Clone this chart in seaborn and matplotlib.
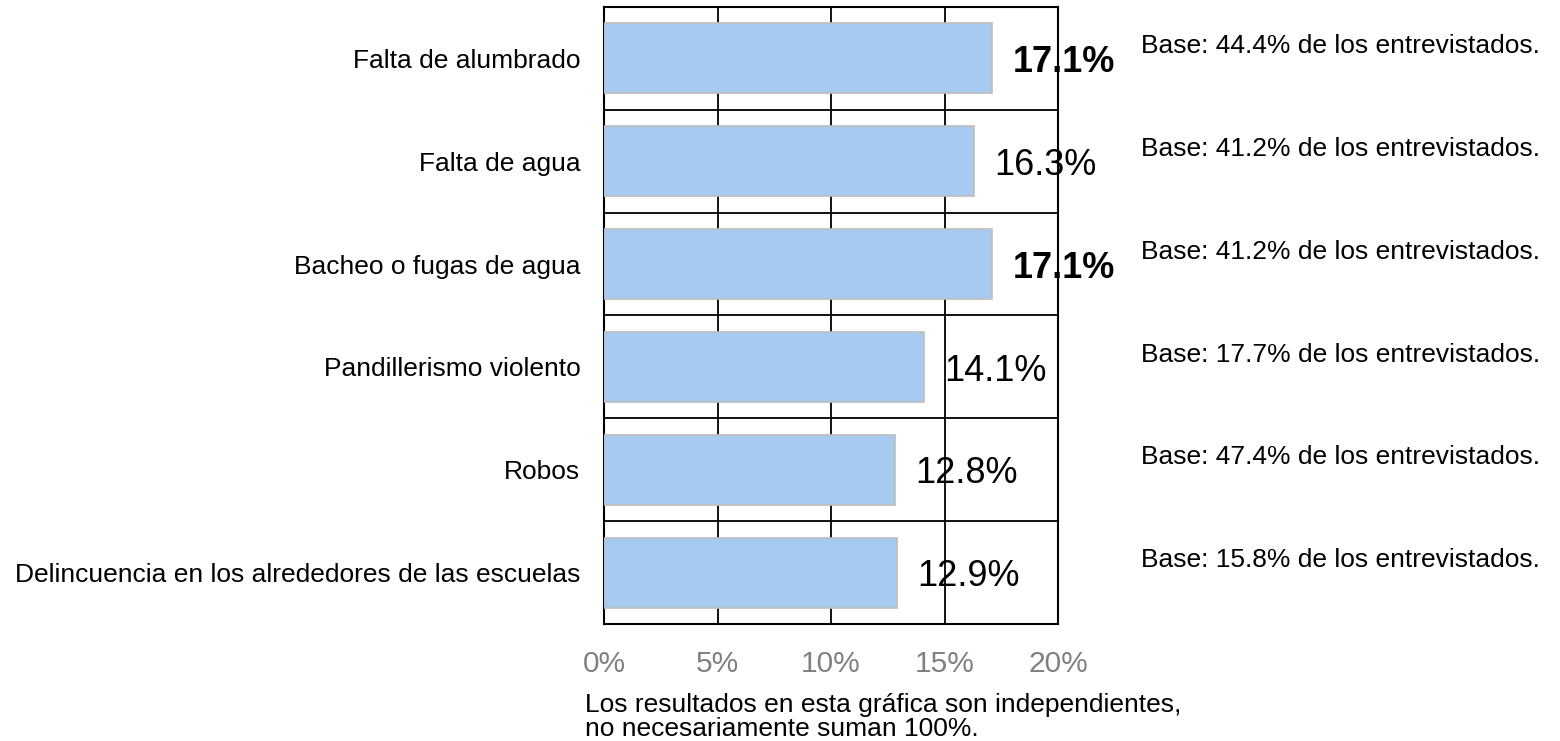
import numpy as np
import pandas as pd
import matplotlib
matplotlib.use("Agg")
import matplotlib.pyplot as plt
import seaborn as sns

# data
categories = [
    "Falta de alumbrado",
    "Falta de agua",
    "Bacheo o fugas de agua",
    "Pandillerismo violento",
    "Robos",
    "Delincuencia en los alrededores de las escuelas",
]
values = [17.1, 16.3, 17.1, 14.1, 12.8, 12.9]
bases = [44.4, 41.2, 41.2, 17.7, 47.4, 15.8]
x_ticks = [0, 5, 10, 15, 20]
note = "Los resultados en esta gráfica son independientes,\nno necesariamente suman 100%."

df = pd.DataFrame({"categoria": categories, "valor": values, "base": bases})

sns.set_style("white")
plt.rcParams["font.family"] = ["Liberation Sans", "DejaVu Sans"]
plt.rcParams["text.color"] = "black"

fig = plt.figure(figsize=(15.6, 7.41), dpi=100)
ax = fig.add_axes([0.3872, 0.1579, 0.291, 0.8327])

sns.barplot(data=df, x="valor", y="categoria", orient="h", ax=ax,
            color="#A6CAF0", saturation=1, width=0.68,
            edgecolor="#BDBDBD", linewidth=1.2, zorder=3)

ax.set_xlim(0, 20)
ax.set_ylim(len(categories) - 0.5, -0.5)
ax.set_xlabel("")
ax.set_ylabel("")

# grid: vertical lines at x ticks, horizontal lines between categories
ax.set_xticks(x_ticks)
ax.set_xticklabels([f"{t}%" for t in x_ticks], color="#808080", fontsize=21.5)
ax.set_yticks(range(len(categories)))
ax.set_yticklabels(categories, fontsize=19, color="black")
ax.set_yticks(np.arange(-0.5, len(categories), 1), minor=True)
ax.tick_params(axis="y", which="major", length=0, pad=17)
ax.tick_params(axis="y", which="minor", length=6, width=1.3, color="black", direction="out")
ax.tick_params(axis="x", which="major", length=6, width=1.3, color="black", direction="out", pad=13)
ax.grid(False)
for t in x_ticks[1:-1]:
    ax.axvline(t, color="black", lw=1.3, zorder=1)
for b in np.arange(0.5, len(categories) - 1, 1):
    ax.axhline(b, color="black", lw=1.3, zorder=1)
for s in ax.spines.values():
    s.set_visible(True)
    s.set_color("black")
    s.set_linewidth(1.5)

# value labels
vmax = max(values)
for i, v in enumerate(values):
    ax.text(v + 0.9, i + 0.04, f"{v:.1f}%", va="center", ha="left", color="black",
            fontsize=26, fontweight="bold" if v == vmax else "normal", zorder=5)

# base annotations on the right
for i, b in enumerate(bases):
    ax.annotate(f"Base: {b:.1f}% de los entrevistados.", xy=(1, i - 0.12),
                xycoords=("axes fraction", "data"), xytext=(60, 0),
                textcoords="offset points", ha="left", va="center", fontsize=19,
                color="black")

fig.text(585 / 1560, 1 - 693 / 741, note, ha="left", va="top",
         fontsize=19, linespacing=1.0, color="black")

fig.savefig("out.png", dpi=100, facecolor="white")
